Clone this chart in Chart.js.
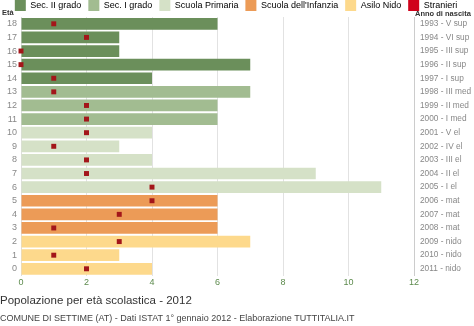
<!DOCTYPE html>
<html>
<head>
<meta charset="utf-8">
<script src="https://cdn.jsdelivr.net/npm/chart.js@4"></script>
<style>
  body { margin: 0; background: #fff; }
  #wrap { width: 474px; height: 326px; }
</style>
</head>
<body>
<div id="wrap"><canvas id="myChart"></canvas></div>
<script>
const ages = ['18', '17', '16', '15', '14', '13', '12', '11', '10', '9', '8', '7', '6', '5', '4', '3', '2', '1', '0']
const birthYears = ['1993 - V sup', '1994 - VI sup', '1995 - III sup', '1996 - II sup', '1997 - I sup',
    '1998 - III med', '1999 - II med', '2000 - I med', '2001 - V el', '2002 - IV el', '2003 - III el',
    '2004 - II el', '2005 - I el', '2006 - mat', '2007 - mat', '2008 - mat', '2009 - nido', '2010 - nido', '2011 - nido']
const students = [6, 3, 3, 7, 4, 7, 6, 6, 4, 3, 4, 9, 11, 6, 6, 6, 7, 3, 4]
const foreigners = [1, 2, 0, 0, 1, 1, 2, 2, 2, 1, 2, 2, 4, 4, 3, 1, 3, 1, 2]
const levels = ['Sec. II grado', 'Sec. I grado', 'Scuola Primaria', "Scuola dell'Infanzia", 'Asilo Nido']
const ageLevel = [0, 0, 0, 0, 0, 1, 1, 1, 2, 2, 2, 2, 2, 3, 3, 3, 4, 4, 4]

const levelColors = ['#6b8f5b', '#a2bc91', '#d5e1c7', '#ec9b57', '#fdd98c']
const foreignColor = '#a3161a'

Chart.defaults.font.family = '"Liberation Sans", Arial, sans-serif'
Chart.defaults.color = '#888'

// little bold captions above the two category axes
const axisCaptions = {
    id: 'axisCaptions',
    afterDraw(chart) {
        const {ctx, chartArea} = chart
        ctx.save()
        ctx.font = 'bold 7.5px "Liberation Sans", Arial, sans-serif'
        ctx.fillStyle = '#333'
        ctx.textBaseline = 'bottom'
        ctx.textAlign = 'left'
        ctx.fillText('Età', 2, chartArea.top)
        ctx.fillText('Anno di nascita', chartArea.right + 1, chartArea.top + 1)
        ctx.restore()
    }
}

// legend sits a bit lower than the negative top padding puts it
const nudgeLegend = {
    id: 'nudgeLegend',
    afterLayout(chart) {
        chart.legend.top += 4
    }
}

const ctx = document.querySelector('#myChart').getContext('2d')

const chart = new Chart(ctx, {
    data: {
        labels: ages,
        datasets: [{
            type: 'line',
            label: 'Stranieri',
            data: foreigners,
            showLine: false,
            pointStyle: 'rect',
            pointRadius: 3.5,
            pointBackgroundColor: foreignColor,
            pointBorderWidth: 0,
            clip: false,
            order: 1
        }, {
            type: 'bar',
            label: 'Popolazione',
            data: students,
            backgroundColor: ageLevel.map(l => levelColors[l]),
            barPercentage: 0.86,
            categoryPercentage: 1,
            order: 2
        }]
    },
    plugins: [axisCaptions, nudgeLegend],
    options: {
        indexAxis: 'y',
        responsive: true,
        maintainAspectRatio: false,
        animation: false,
        layout: {padding: {left: 0, right: 2, top: -11, bottom: 0}},
        scales: {
            x: {
                min: 0,
                max: 12,
                ticks: {stepSize: 2, color: '#5c8a4c', font: {size: 9}, padding: 2},
                grid: {color: '#e2e2e2', drawTicks: false},
                border: {display: false}
            },
            y: {
                grid: {display: false, drawTicks: false},
                border: {color: '#ddd'},
                ticks: {font: {size: 9}, padding: 4, autoSkip: false},
                afterFit(scale) { scale.width = 21 }
            },
            y2: {
                type: 'category',
                labels: birthYears,
                position: 'right',
                offset: true,
                grid: {display: false, drawTicks: false},
                border: {color: '#ccc'},
                ticks: {font: {size: 8.3}, padding: 6, color: '#888', autoSkip: false},
                afterFit(scale) { scale.width = 58 }
            }
        },
        plugins: {
            legend: {
                position: 'top',
                labels: {
                    boxWidth: 11,
                    boxHeight: 11,
                    padding: 7,
                    font: {size: 9},
                    color: '#888',
                    generateLabels() {
                        const items = levels.map((name, i) => ({
                            text: name, fillStyle: levelColors[i], strokeStyle: levelColors[i], lineWidth: 0
                        }))
                        items.push({text: 'Stranieri', fillStyle: '#d0021b', strokeStyle: '#d0021b', lineWidth: 0})
                        return items
                    }
                }
            },
            title: {
                display: true,
                text: 'Popolazione per età scolastica - 2012',
                position: 'bottom',
                align: 'start',
                color: '#333',
                weight: 1400,
                font: {size: 11.5, weight: 'normal'},
                padding: {top: 4, bottom: 3}
            },
            subtitle: {
                display: true,
                text: 'COMUNE DI SETTIME (AT) - Dati ISTAT 1° gennaio 2012 - Elaborazione TUTTITALIA.IT',
                position: 'bottom',
                align: 'start',
                color: '#444',
                weight: 1500,
                font: {size: 9},
                padding: {top: 2, bottom: 2}
            },
            tooltip: {enabled: false}
        }
    }
})
</script>
</body>
</html>
